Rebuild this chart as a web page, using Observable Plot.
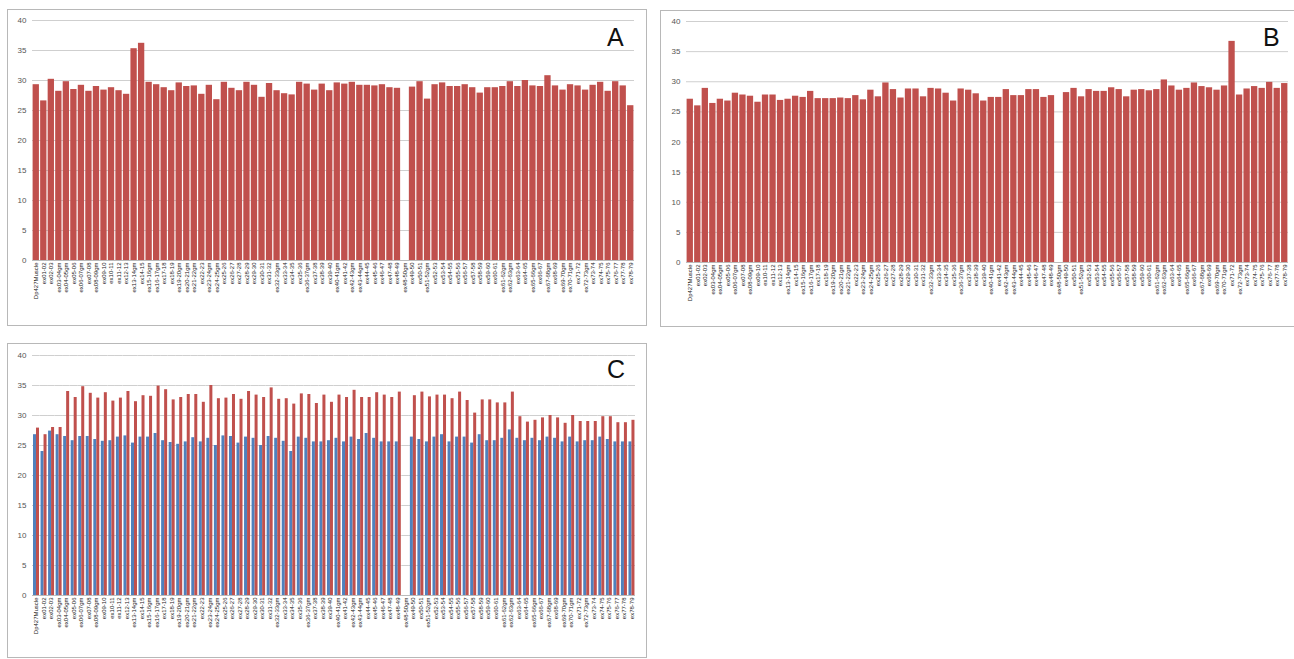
<!DOCTYPE html>
<html><head><meta charset="utf-8">
<script src="https://cdn.jsdelivr.net/npm/d3@7"></script>
<script src="https://cdn.jsdelivr.net/npm/@observablehq/plot@0.6"></script>
<style>
body{margin:0;background:#fff;font-family:"Liberation Sans",Arial,sans-serif;overflow:hidden;}
.panel{position:absolute;border:1px solid #b8b8b8;background:#fff;}
.letter{position:absolute;font-size:25px;line-height:25px;color:#111;font-family:"Liberation Sans",Arial,sans-serif;}
</style></head><body>
<div id="A" class="panel" style="left:7px;top:9px;width:638px;height:315px"></div>
<div id="B" class="panel" style="left:660px;top:10px;width:640px;height:315px"></div>
<div id="C" class="panel" style="left:7px;top:343px;width:638px;height:313px"></div>
<div class="letter" style="left:607px;top:25px">A</div>
<div class="letter" style="left:1263px;top:25px">B</div>
<div class="letter" style="left:607px;top:357px">C</div>
<script>
const categories = [
"Dp427Muscle","ex01-02","ex02-03","ex03-04gm","ex04-05gm","ex05-06","ex06-07gm","ex07-08","ex08-09gm","ex09-10","ex10-11","ex11-12","ex12-13","ex13-14gm","ex14-15","ex15-16gm","ex16-17gm","ex17-18","ex18-19","ex19-20gm","ex20-21gm","ex21-22gm","ex22-23","ex23-24gm","ex24-25gm","ex25-26","ex26-27","ex27-28","ex28-29","ex29-30","ex30-31","ex31-32","ex32-33gm","ex33-34","ex34-35","ex35-36","ex36-37gm","ex37-38","ex38-39","ex39-40","ex40-41gm","ex41-42","ex42-43gm","ex43-44gm","ex44-45","ex45-46","ex46-47","ex47-48","ex48-49",
"ex48-50gm",
"ex49-50","ex50-51","ex51-52gm","ex52-53","ex53-54","ex54-55","ex55-56","ex56-57","ex57-58","ex58-59","ex59-60","ex60-61","ex61-62gm","ex62-63gm","ex63-64","ex64-65","ex65-66gm","ex66-67","ex67-68gm","ex68-69","ex69-70gm","ex70-71gm","ex71-72","ex72-73gm","ex73-74","ex74-75","ex75-76","ex76-77","ex77-78","ex78-79"];

const seriesA = [
29.3,26.6,30.2,28.2,29.8,28.5,29.2,28.2,29.0,28.4,28.8,28.3,27.7,35.3,36.2,29.7,29.3,28.8,28.3,29.6,29.0,29.1,27.7,29.2,26.8,29.7,28.7,28.3,29.7,29.2,27.2,29.5,28.3,27.8,27.6,29.7,29.4,28.4,29.4,28.3,29.6,29.4,29.7,29.2,29.2,29.1,29.3,28.8,28.7,
null,
28.9,29.8,26.9,29.3,29.6,29.0,29.0,29.3,28.8,27.9,28.8,28.8,29.0,29.8,29.0,30.0,29.1,29.0,30.8,29.1,28.4,29.3,29.1,28.4,29.2,29.7,28.2,29.8,29.1,25.8];

const seriesB = [
27.1,26.0,28.9,26.4,27.1,26.8,28.1,27.8,27.6,26.6,27.8,27.8,26.9,27.1,27.6,27.4,28.4,27.2,27.2,27.2,27.3,27.2,27.7,27.0,28.6,27.5,29.8,28.7,27.3,28.8,28.8,27.5,28.9,28.8,28.1,26.8,28.8,28.6,28.0,26.8,27.4,27.4,28.7,27.7,27.7,28.7,28.7,27.4,27.7,
null,
28.2,28.9,27.5,28.7,28.4,28.4,29.0,28.7,27.5,28.6,28.7,28.5,28.7,30.3,29.3,28.6,28.9,29.8,29.2,29.0,28.6,29.3,36.7,27.8,28.8,29.2,28.9,29.9,28.9,29.7];

const seriesCblue = [
26.8,24.0,27.4,26.8,26.5,25.8,26.5,26.5,26.0,25.7,25.8,26.4,26.6,25.4,26.4,26.4,27.0,25.8,25.5,25.2,25.6,26.3,25.6,26.2,25.0,26.6,26.5,25.4,26.4,26.2,25.0,26.5,26.2,25.7,24.0,26.4,26.2,25.6,25.6,25.8,26.2,25.6,26.4,26.0,27.0,26.2,25.6,25.6,25.6,
null,
26.4,26.0,25.6,26.4,26.8,25.6,26.4,26.4,25.4,26.8,25.8,25.8,26.2,27.6,26.2,25.8,26.2,25.8,26.4,26.2,25.6,26.4,25.6,25.8,25.8,26.4,26.0,25.6,25.6,25.6];

const seriesCred = [
27.9,26.8,28.0,28.0,34.0,33.0,34.8,33.7,32.9,33.8,32.4,32.9,34.0,32.3,33.3,33.2,34.9,34.3,32.6,33.0,33.5,33.5,32.2,35.0,32.8,32.9,33.5,32.7,34.0,33.4,33.0,34.6,32.7,32.8,31.9,33.6,33.5,32.0,33.4,32.2,33.4,33.0,34.2,33.0,33.0,33.8,33.4,33.0,33.9,
null,
33.3,33.9,33.1,33.4,33.4,32.8,33.9,32.5,30.4,32.6,32.6,32.1,32.1,33.9,29.8,28.9,29.2,29.6,30.0,29.6,28.7,30.0,29.0,29.0,29.0,29.8,29.8,28.8,28.8,29.2];

const yTicks = [0,5,10,15,20,25,30,35,40];
const RED = "#c0504d", BLUE = "#4f81bd";
const FONT = "Liberation Sans, Arial, sans-serif";

function axisY() {
  return Plot.axisY({ticks: yTicks, tickSize: 0, tickPadding: 6, fontSize: 8, fill: "#555", label: null});
}

function single(el, values, w, h, m) {
  const data = categories.map((c, i) => ({cat: c, v: values[i]}));
  const svg = Plot.plot({
    width: w, height: h,
    marginLeft: m[0], marginRight: m[1], marginTop: m[2], marginBottom: m[3],
    style: {fontFamily: FONT, background: "transparent", overflow: "visible"},
    x: {domain: categories, paddingInner: 0.16, paddingOuter: 0.08},
    y: {domain: [0, 40]},
    marks: [
      Plot.gridY(yTicks, {stroke: "#cfcfcf", strokeOpacity: 1}),
      Plot.barY(data.filter(d => d.v != null), {x: "cat", y: "v", fill: RED}),
      Plot.ruleY([0], {stroke: "#bbb"}),
      axisY(),
      Plot.axisX({tickRotate: -90, tickSize: 0, tickPadding: 2, fontSize: 6, fill: "#222", label: null})
    ]
  });
  document.getElementById(el).appendChild(svg);
}

single("A", seriesA, 638, 315, [24, 12, 10, 65]);
single("B", seriesB, 640, 315, [25, 13, 10, 64]);

(function () {
  const data = [];
  categories.forEach((c, i) => {
    if (seriesCblue[i] != null) data.push({cat: c, s: "b", v: seriesCblue[i]});
    if (seriesCred[i] != null) data.push({cat: c, s: "r", v: seriesCred[i]});
  });
  const svg = Plot.plot({
    width: 638, height: 313,
    marginLeft: 24, marginRight: 11, marginTop: 11, marginBottom: 62,
    style: {fontFamily: FONT, background: "transparent", overflow: "visible"},
    fx: {domain: categories, padding: 0},
    x: {domain: ["b", "r"], paddingInner: 0, paddingOuter: 0.04, axis: null},
    y: {domain: [0, 40]},
    color: {domain: ["b", "r"], range: [BLUE, RED]},
    marks: [
      Plot.gridY(yTicks, {stroke: "#cfcfcf", strokeOpacity: 1}),
      Plot.barY(data, {fx: "cat", x: "s", y: "v", fill: "s"}),
      Plot.ruleY(categories, {fx: d => d, y: 0, stroke: "#bbb"}),
      axisY(),
      Plot.axisFx({anchor: "bottom", tickRotate: -90, tickSize: 0, tickPadding: 2, fontSize: 6, fill: "#222", label: null})
    ]
  });
  document.getElementById("C").appendChild(svg);
})();
</script>
</body></html>
